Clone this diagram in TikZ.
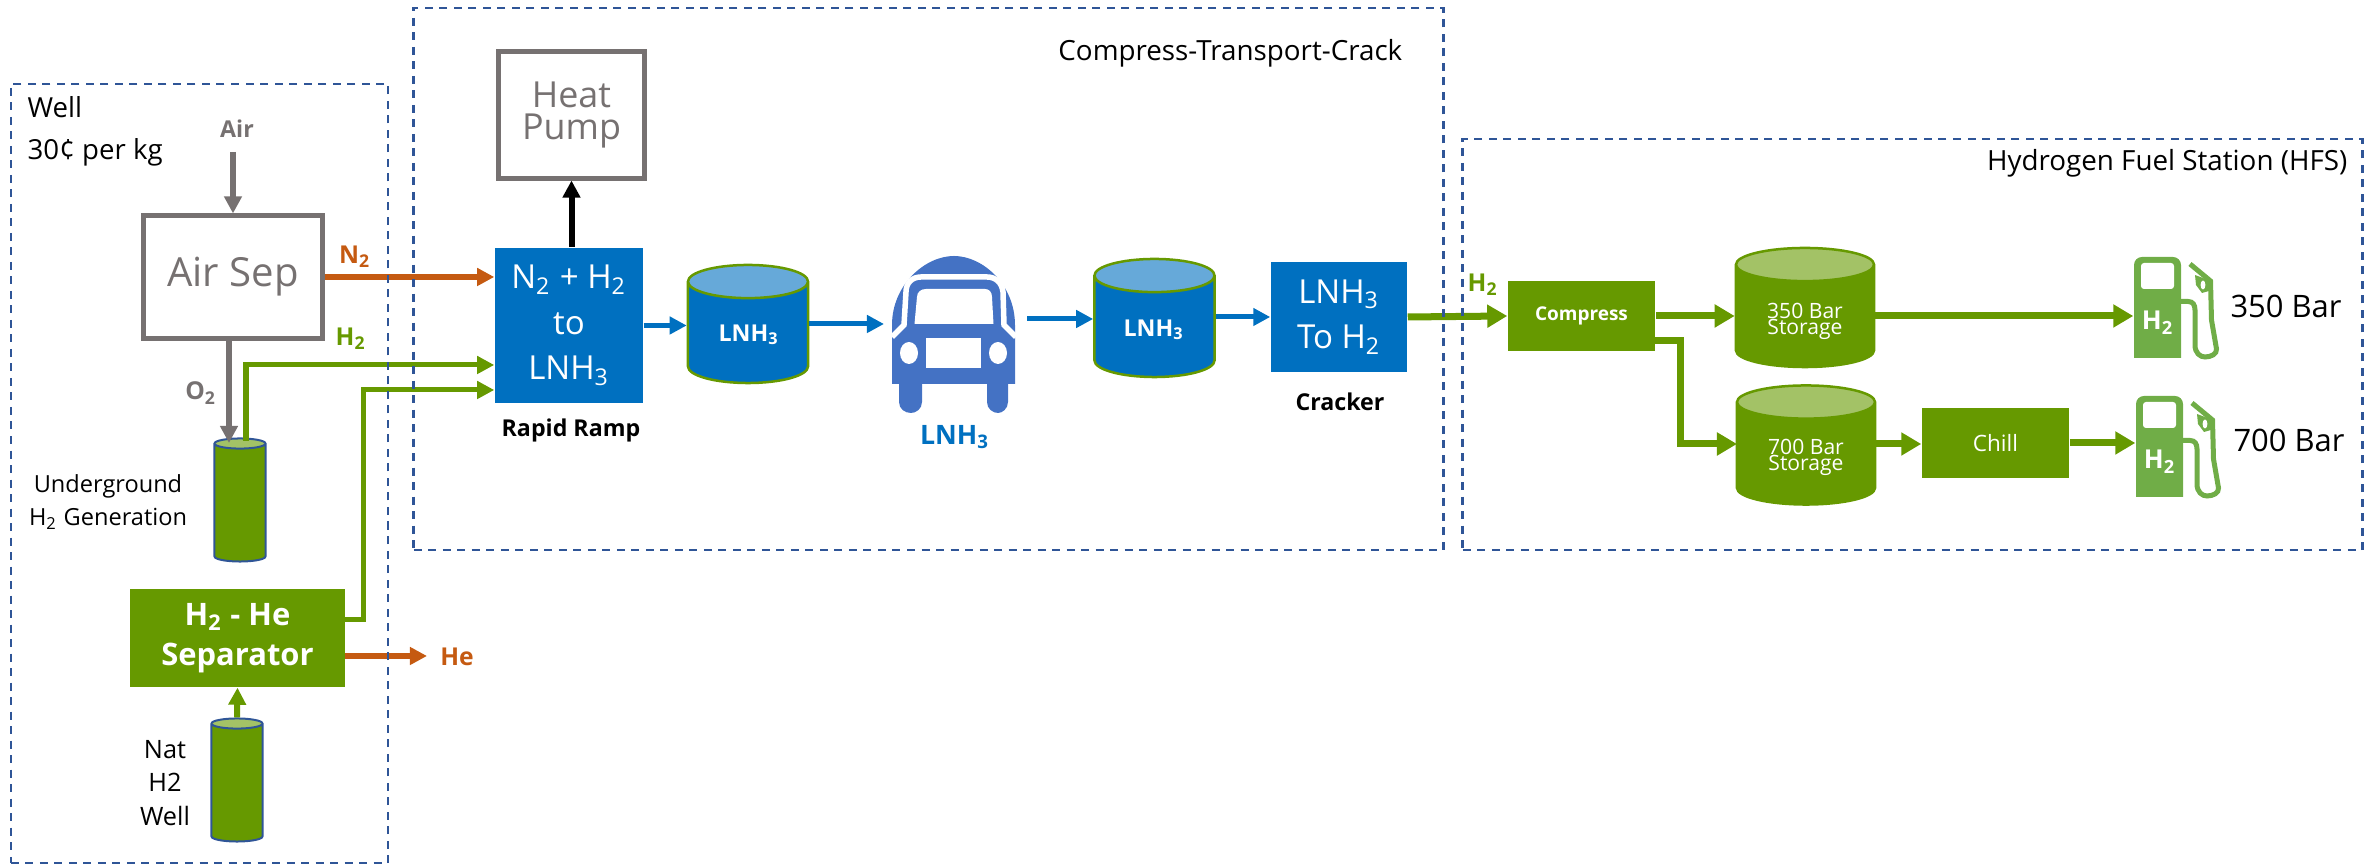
\documentclass[tikz,border=0pt]{standalone}
\usepackage{fontspec}
\setmainfont{Open Sans}
\usetikzlibrary{arrows.meta,positioning,shapes.geometric}
\definecolor{h2green}{HTML}{669900}
\definecolor{h2light}{HTML}{A3C266}
\definecolor{pumpgreen}{HTML}{70AD47}
\definecolor{nh3blue}{HTML}{0070C0}
\definecolor{nh3light}{HTML}{66A9D9}
\definecolor{truckblue}{HTML}{4472C4}
\definecolor{sepgrey}{HTML}{767171}
\definecolor{n2orange}{HTML}{C55A11}
\definecolor{regionblue}{HTML}{2F5597}
\newcommand{\sub}[1]{\textsubscript{#1}}
\tikzset{
  region/.style={rectangle,draw=regionblue,line width=0.025cm,dash pattern=on 0.08cm off 0.065cm,inner sep=0pt},
  greybox/.style={rectangle,draw=sepgrey,line width=0.05cm,inner sep=0pt,text=sepgrey,align=center},
  bluebox/.style={rectangle,fill=nh3blue,inner sep=0pt,text=white,align=center,font=\fontsize{9.4}{13}\selectfont},
  greenbox/.style={rectangle,fill=h2green,inner sep=0pt,text=white,align=center},
  wellcyl/.style={cylinder,shape border rotate=90,shape aspect=0.55,cylinder uses custom fill,cylinder body fill=h2green,cylinder end fill=h2light,draw=regionblue,line width=0.02cm,inner sep=0pt,minimum width=0.51cm,minimum height=1.23cm,anchor=shape center},
  bluetank/.style={cylinder,shape border rotate=90,shape aspect=1.8,cylinder uses custom fill,cylinder body fill=nh3blue,cylinder end fill=nh3light,draw=h2green,line width=0.025cm,inner sep=0pt,minimum width=1.2cm,minimum height=1.18cm,anchor=shape center},
  greentank/.style={cylinder,shape border rotate=90,shape aspect=1.8,cylinder uses custom fill,cylinder body fill=h2green,cylinder end fill=h2light,draw=h2green,line width=0.025cm,inner sep=0pt,minimum width=1.38cm,minimum height=1.19cm,anchor=shape center},
  tanktext/.style={inner sep=0pt,text=white,font=\bfseries\fontsize{6.6}{9}\selectfont},
  storagetext/.style={inner sep=0pt,text=white,align=center,font=\fontsize{6}{4.6}\selectfont},
  label/.style={inner sep=0pt,align=center,font=\fontsize{7.9}{9.5}\selectfont},
  boldlabel/.style={inner sep=0pt,align=center,font=\bfseries\fontsize{6.6}{8}\selectfont},
  bigtext/.style={inner sep=0pt,font=\fontsize{8.8}{10}\selectfont},
  flow/.style={line width=0.055cm,-{Triangle[length=0.17cm,width=0.17cm]}},
  greenflow/.style={flow,h2green,line width=0.05cm},
  bigflow/.style={h2green,line width=0.07cm,-{Triangle[length=0.2cm,width=0.22cm]}},
  blueflow/.style={flow,nh3blue,line width=0.05cm},
  greyflow/.style={flow,sepgrey,line width=0.05cm},
  orangeflow/.style={flow,n2orange,line width=0.06cm},
  pumpbox/.style={rectangle,inner sep=0pt,minimum width=0.47cm,minimum height=1.01cm},
}
\newcommand{\hpump}[3]{%
\begin{scope}[shift={(#2,#3)}]
\fill[pumpgreen] (0,101) {[rounded corners=0.08cm] -- (0,0) -- (47,0)} -- (47,101) -- cycle;
\fill[white,rounded corners=0.03cm] (7,6) rectangle (40,32);
\draw[pumpgreen,line width=0.05cm] (47,44.5) -- (54,44.5) .. controls (59,44.5) and (61,48) .. (61,53) -- (61,88) .. controls (61,96) and (66,100) .. (71,100) .. controls (77,100) and (83,97) .. (82.5,92) -- (77.5,63) -- (76.5,24) -- (56,7);
\fill[pumpgreen] (61,18) -- (77,24) -- (75,34) -- (68,36) -- (62,28) -- cycle;
\fill[white] (69,28) ellipse (2.4 and 4.5);
\node (#1) [pumpbox] at (23.5,50.5) {};
\node (#1text) [inner sep=0pt,text=white,font=\bfseries\fontsize{7.4}{9}\selectfont] at (24,66) {H\sub{2}};
\end{scope}}
\begin{document}
\begin{tikzpicture}[x=0.01cm,y=-0.01cm]
\useasboundingbox (0,0) rectangle (2374,865);
% well side
\node (airsep) [greybox,minimum width=1.78cm,minimum height=1.22cm,font=\fontsize{11.4}{14}\selectfont] at (233,277) {Air Sep};
\node (heatpump) [greybox,minimum width=1.46cm,minimum height=1.26cm,font=\fontsize{10.2}{9}\selectfont] at (571.5,115) {Heat\\Pump};
\node (cavern) [wellcyl] at (240,500) {\phantom{x}};
\node (natwell) [wellcyl] at (237,780) {\phantom{x}};
\node (separator) [greenbox,minimum width=2.15cm,minimum height=0.98cm,font=\bfseries\fontsize{8.8}{11.2}\selectfont] at (237.5,638) {H\sub{2} - He\\Separator};
\coordinate (airin) at (233,152);
\coordinate (hestop) at (427,656);
\coordinate (hestart) at (345,656);
\coordinate (cavernout) at (246,441);
\coordinate (cavernin) at (229,443);
\coordinate (airo) at (229,338);
\coordinate (sepout) at (345,620);
\node (airlabel) [boldlabel,text=sepgrey] at (237,129) {Air};
\node (n2label) [boldlabel,text=n2orange,font=\bfseries\fontsize{7}{8}\selectfont] at (355,257) {N\sub{2}};
\node (h2label) [boldlabel,text=h2green,font=\bfseries\fontsize{7}{8}\selectfont] at (351,339) {H\sub{2}};
\node (o2label) [boldlabel,text=sepgrey,font=\bfseries\fontsize{7}{8}\selectfont] at (201,393) {O\sub{2}};
\node (helabel) [boldlabel,text=n2orange,font=\bfseries\fontsize{7}{8}\selectfont] at (457,657) {He};
\node (welllabel) [label,anchor=north west,align=left,font=\fontsize{7.85}{12}\selectfont] at (27,96) {Well\\30¢ per kg};
\node (cavernlabel) [label,font=\fontsize{6.7}{9.4}\selectfont] at (108,502) {Underground\\H\sub{2} Generation};
\node (natlabel) [label,font=\fontsize{7.2}{9.5}\selectfont] at (165,783) {Nat\\H2\\Well};
% transport
\node (reactor) [bluebox,minimum width=1.48cm,minimum height=1.55cm] at (569,325.5) {N\sub{2} + H\sub{2}\\to\\LNH\sub{3}};
\node (ramplabel) [boldlabel] at (571,430) {Rapid Ramp};
\node (tanka) [bluetank] at (748,324) {\phantom{x}};
\node (tankatext) [tanktext] at (749,335) {LNH\sub{3}};
\node (truck) [rectangle,inner sep=0pt,minimum width=1.24cm,minimum height=1.57cm] at (954,335) {};
\fill[truckblue] (892,325) .. controls (892,285) and (925,256) .. (954,256) .. controls (983,256) and (1015,285) .. (1015,325) -- (1015,384) -- (1008,384) -- (1008,402) .. controls (1008,409) and (1002,413) .. (998,413) .. controls (993,413) and (987,409) .. (987,402) -- (987,384) -- (922,384) -- (922,402) .. controls (922,409) and (916,413) .. (911,413) .. controls (905,413) and (899,409) .. (899,402) -- (899,384) -- (892,384) -- cycle;
\draw[white,line width=0.055cm] (892,337) -- (904,325) -- (906,292) .. controls (906,283) and (912,277) .. (921,277) -- (987,277) .. controls (996,277) and (1002,283) .. (1003,292) -- (1004,325) -- (1016,337);
\fill[white] (914.5,324) -- (917,297) .. controls (917,292) and (921,289) .. (926,289) -- (985,289) .. controls (989,289) and (992,292) .. (992,297) -- (993.5,324) -- cycle;
\fill[white] (909,353) ellipse (9 and 11);
\fill[white] (998,353) ellipse (9 and 11);
\fill[white] (926,338) rectangle (981,368);
\node (trucklabel) [boldlabel,text=nh3blue,font=\bfseries\fontsize{7.6}{9}\selectfont] at (955,437) {LNH\sub{3}};
\node (tankb) [bluetank] at (1154.5,318) {\phantom{x}};
\node (tankbtext) [tanktext] at (1154,330) {LNH\sub{3}};
\node (cracker) [bluebox,minimum width=1.36cm,minimum height=1.10cm] at (1339,317) {LNH\sub{3}\\To H\sub{2}};
\node (crackerlabel) [boldlabel] at (1340,402) {Cracker};
\coordinate (truckin) at (884,324);
\coordinate (truckout) at (1027,319);
\node (crosslabel) [label,anchor=east] at (1403,53) {Compress-Transport-Crack};
% fuel station
\node (compress) [greenbox,minimum width=1.47cm,minimum height=0.70cm,font=\bfseries\fontsize{5.4}{7}\selectfont] at (1581.5,316) {Compress};
\node (storagea) [greentank] at (1805,307.5) {\phantom{x}};
\node (storageatext) [storagetext] at (1805,321) {350 Bar\\Storage};
\node (storageb) [greentank] at (1806,445) {\phantom{x}};
\node (storagebtext) [storagetext] at (1806,457) {700 Bar\\Storage};
\node (chill) [greenbox,minimum width=1.47cm,minimum height=0.70cm,font=\fontsize{6.4}{8}\selectfont] at (1995.5,443) {Chill};
\hpump{pumpa}{2134}{257}
\hpump{pumpb}{2136}{396}
\node (pumpalabel) [bigtext] at (2286,306) {350 Bar};
\node (pumpblabel) [bigtext] at (2289,440) {700 Bar};
\node (stationh2) [boldlabel,text=h2green,font=\bfseries\fontsize{7}{8}\selectfont] at (1483,285) {H\sub{2}};
\node (stationlabel) [label,anchor=east] at (2348,163) {Hydrogen Fuel Station (HFS)};
\coordinate (branch) at (1655,341);
\coordinate (branchin) at (1737,444);
%
{\path[greyflow](airin) edge (airsep.north);}
{\path[greyflow](airo) edge (cavernin);}
{\path[orangeflow](airsep.east) edge (airsep.east -| reactor.west);}
\draw[greenflow] (cavernout) |- (reactor.west |- 0,365);
\draw[greenflow] (sepout) -| (363,390) -- (reactor.west |- 0,390);
{\path[flow,black,line width=0.06cm](reactor.north -| heatpump.south) edge (heatpump.south);}
{\path[greenflow,line width=0.06cm](natwell.north) edge (separator.south);}
{\path[orangeflow](hestart) edge (hestop);}
%
{\path[blueflow](reactor.east) edge (tanka.west |- reactor.east);}
{\path[blueflow](tanka.east |- truckin) edge (truckin);}
{\path[blueflow](truckout) edge (tankb.west |- truckout);}
{\path[blueflow](tankb.east |- cracker.west) edge (cracker.west);}
%
{\path[bigflow](cracker.east) edge (compress.west);}
{\path[bigflow](compress.east) edge (storagea.west |- compress.east);}
\draw[bigflow] (branch) -| (1680,444) -- (branchin);
{\path[bigflow](storagea.east |- compress.east) edge (pumpa.west |- compress.east);}
{\path[bigflow](storageb.east |- branchin) edge (chill.west |- branchin);}
{\path[bigflow](chill.east) edge (pumpb.west |- chill.east);}
%
\node (wellbox) [region,minimum width=3.77cm,minimum height=7.79cm] at (199.5,473.5) {};
\node (crossbox) [region,minimum width=10.29cm,minimum height=5.42cm] at (928.5,279) {};
\node (stationbox) [region,minimum width=8.99cm,minimum height=4.11cm] at (1912.5,344.5) {};
\end{tikzpicture}
\end{document}
